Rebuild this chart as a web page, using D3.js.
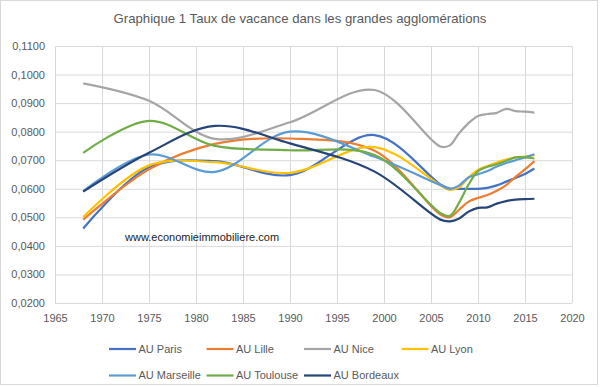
<!DOCTYPE html>
<html>
<head>
<meta charset="utf-8">
<script src="https://cdn.jsdelivr.net/npm/d3@7"></script>
<style>
  body { margin: 0; background: #fff; }
  text { font-family: "Liberation Sans", Arial, sans-serif; fill: #595959; }
</style>
</head>
<body>
<div id="chart"></div>
<script>
// census years then yearly
var years = [1968, 1975, 1982, 1990, 1999, 2006, 2007, 2008, 2009, 2010, 2011, 2012, 2013, 2014, 2015, 2016];

var paris     = [0.0461, 0.0675, 0.0697, 0.0648, 0.0788, 0.0615, 0.0601, 0.0600, 0.0600, 0.0600, 0.0603, 0.0612, 0.0625, 0.0638, 0.0652, 0.0671];
var lille     = [0.0492, 0.0668, 0.0757, 0.0776, 0.0733, 0.0510, 0.0500, 0.0527, 0.0555, 0.0568, 0.0578, 0.0593, 0.0613, 0.0642, 0.0668, 0.0697];
var nice      = [0.0969, 0.0908, 0.0775, 0.0833, 0.0946, 0.0748, 0.0752, 0.0795, 0.0830, 0.0855, 0.0862, 0.0866, 0.0880, 0.0872, 0.0870, 0.0867];
var lyon      = [0.0501, 0.0682, 0.0693, 0.0656, 0.0746, 0.0612, 0.0596, 0.0605, 0.0640, 0.0666, 0.0680, 0.0692, 0.0702, 0.0710, 0.0713, 0.0718];
var marseille = [0.0592, 0.0720, 0.0659, 0.0800, 0.0712, 0.0613, 0.0600, 0.0612, 0.0640, 0.0651, 0.0662, 0.0678, 0.0690, 0.0700, 0.0710, 0.0721];
var toulouse  = [0.0726, 0.0838, 0.0750, 0.0735, 0.0718, 0.0515, 0.0505, 0.0552, 0.0615, 0.0662, 0.0677, 0.0686, 0.0698, 0.0710, 0.0710, 0.0706];
var bordeaux  = [0.0590, 0.0726, 0.0820, 0.0759, 0.0660, 0.0492, 0.0486, 0.0496, 0.0520, 0.0533, 0.0535, 0.0548, 0.0557, 0.0562, 0.0564, 0.0565];

var seriesNames = ["AU Paris", "AU Lille", "AU Nice", "AU Lyon", "AU Marseille", "AU Toulouse", "AU Bordeaux"];
var seriesValues = [paris, lille, nice, lyon, marseille, toulouse, bordeaux];
var colors = ["#4472C4", "#ED7D31", "#A5A5A5", "#FFC000", "#5B9BD5", "#70AD47", "#264478"];

var xTicks = d3.range(1965, 2021, 5);
var yTicks = d3.range(0.02, 0.1101, 0.01);

var svgWidth = 600;
var svgHeight = 387;
var margin = { top: 46, right: 28, bottom: 84, left: 55 };
var width = svgWidth - margin.left - margin.right;
var height = svgHeight - margin.top - margin.bottom;

var svg = d3.select("#chart")
  .append("svg")
  .attr("width", svgWidth)
  .attr("height", svgHeight);

// outer frame
svg.append("rect")
  .attr("x", 0.5).attr("y", 0.5)
  .attr("width", svgWidth - 3).attr("height", svgHeight - 3)
  .attr("fill", "#fff")
  .attr("stroke", "#D9D9D9");

svg.append("text")
  .attr("x", 300)
  .attr("y", 23)
  .attr("text-anchor", "middle")
  .style("font-size", "13.2px")
  .text("Graphique 1 Taux de vacance dans les grandes agglomérations");

var chartGroup = svg.append("g")
  .attr("transform", `translate(${margin.left}, ${margin.top})`);

var x = d3.scaleLinear().domain([1965, 2020]).range([0, width]);
var y = d3.scaleLinear().domain([0.02, 0.11]).range([height, 0]);

// gridlines
chartGroup.append("g")
  .call(d3.axisLeft(y).tickValues(yTicks).tickSize(-width).tickFormat(""))
  .call(g => g.select(".domain").remove())
  .call(g => g.selectAll("line").attr("stroke", "#D9D9D9"));

chartGroup.append("g")
  .attr("transform", `translate(0, ${height})`)
  .call(d3.axisBottom(x).tickValues(xTicks).tickSize(-height).tickFormat(""))
  .call(g => g.select(".domain").remove())
  .call(g => g.selectAll("line").attr("stroke", "#D9D9D9"));

// tick labels
var fmt = v => d3.format(".4f")(v).replace(".", ",");
chartGroup.append("g")
  .call(d3.axisLeft(y).tickValues(yTicks).tickSize(0).tickPadding(10).tickFormat(fmt))
  .call(g => g.select(".domain").remove())
  .call(g => g.selectAll("text").style("font-size", "11px").attr("fill", "#595959"));

chartGroup.append("g")
  .attr("transform", `translate(0, ${height})`)
  .call(d3.axisBottom(x).tickValues(xTicks).tickSize(0).tickPadding(11).tickFormat(d3.format("d")))
  .call(g => g.select(".domain").remove())
  .call(g => g.selectAll("text").style("font-size", "11px").attr("fill", "#595959"));

// lines (smoothed like the spreadsheet)
var line = d3.line()
  .x((d, i) => x(years[i]))
  .y(d => y(d))
  .curve(d3.curveCatmullRom.alpha(0.5));

chartGroup.selectAll(".series")
  .data(seriesValues)
  .enter()
  .append("path")
  .attr("class", "series")
  .attr("d", line)
  .attr("fill", "none")
  .attr("stroke", (d, i) => colors[i])
  .attr("stroke-width", 2.2)
  .attr("stroke-linejoin", "round");

// watermark
chartGroup.append("text")
  .attr("x", 125 - margin.left)
  .attr("y", 241 - margin.top)
  .style("font-size", "11px")
  .style("fill", "#222")
  .text("www.economieimmobiliere.com");

// legend
var legend = svg.append("g");
var item = legend.selectAll("g")
  .data(seriesNames)
  .enter()
  .append("g")
  .attr("transform", (d, i) => `translate(${109 + (i % 4) * 97.5}, ${i < 4 ? 349 : 375.5})`);

item.append("line")
  .attr("x1", 0).attr("x2", 27)
  .attr("stroke", (d, i) => colors[i])
  .attr("stroke-width", 2.2);

item.append("text")
  .attr("x", 29.5)
  .attr("dy", "0.35em")
  .style("font-size", "11px")
  .text(d => d);
</script>
</body>
</html>
